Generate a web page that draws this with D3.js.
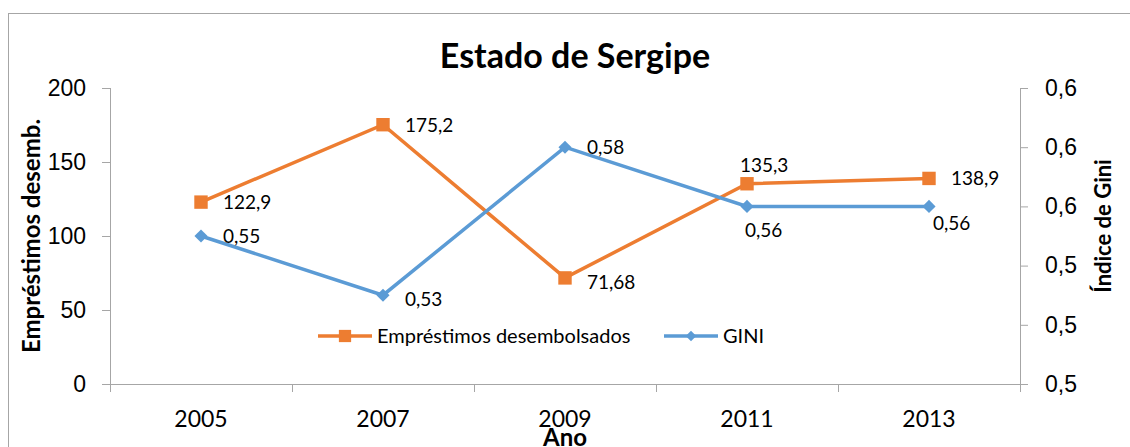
<!DOCTYPE html>
<html>
<head>
<meta charset="utf-8">
<script src="https://cdn.jsdelivr.net/npm/d3@7"></script>
<style>
  body { margin: 0; background: #fff; }
  svg { font-family: Lato, "Open Sans", sans-serif; }
  .axis path, .axis line { stroke: #a6a6a6; }
  .axis text { font-size: 23px; fill: #000; }
</style>
</head>
<body>
<svg id="chart"></svg>
<script>
// data
var years = ["2005", "2007", "2009", "2011", "2013"];
var emprestimos = [122.9, 175.2, 71.68, 135.3, 138.9];
var emprestimosLabels = ["122,9", "175,2", "71,68", "135,3", "138,9"];
var gini = [0.55, 0.53, 0.58, 0.56, 0.56];
var giniLabels = ["0,55", "0,53", "0,58", "0,56", "0,56"];
var leftTicks = [0, 50, 100, 150, 200];
var rightTicks = [0.50, 0.52, 0.54, 0.56, 0.58, 0.60];

// where each data label sits relative to its point
var empPos = ["right", "right", "rightlow", "above", "right"];
var giniPos = ["right", "rightlow", "right", "below", "belowright"];

var svgWidth = 1130, svgHeight = 447;
var orange = "#ed7d31", blue = "#5b9bd5";

var svg = d3.select("#chart")
  .attr("width", svgWidth)
  .attr("height", svgHeight);

// outer frame (right and bottom edges fall outside the picture)
svg.append("rect")
  .attr("x", 8.5).attr("y", 13.5)
  .attr("width", 1140).attr("height", 500)
  .attr("fill", "none")
  .attr("stroke", "#a6a6a6");

var plotLeft = 110, plotRight = 1020, plotTop = 88, plotBottom = 384;

var x = d3.scaleBand().domain(years).range([plotLeft, plotRight]);
var y = d3.scaleLinear().domain([0, 200]).range([plotBottom, plotTop]);
var y2 = d3.scaleLinear().domain([0.50, 0.60]).range([plotBottom, plotTop]);
var cx = d => x(d) + x.bandwidth() / 2;

// left axis
var yAxis = svg.append("g").attr("class", "axis")
  .attr("transform", `translate(${plotLeft},0)`)
  .call(d3.axisLeft(y).tickValues(leftTicks).tickSize(8).tickPadding(16).tickSizeOuter(0));
yAxis.select(".domain").attr("d", `M0.5,${plotTop}V${plotBottom}`);

// right axis
var fmt1 = d => d3.format(".1f")(d).replace(".", ",");
var yAxis2 = svg.append("g").attr("class", "axis")
  .attr("transform", `translate(${plotRight},0)`)
  .call(d3.axisRight(y2).tickValues(rightTicks).tickFormat(fmt1).tickSize(8).tickPadding(17).tickSizeOuter(0));
yAxis2.select(".domain").attr("d", `M0.5,${plotTop}V${plotBottom}`);

// x axis: ticks at the category boundaries
var xAxis = svg.append("g").attr("class", "axis")
  .attr("transform", `translate(0,${plotBottom})`);
xAxis.append("line")
  .attr("x1", plotLeft).attr("x2", plotRight)
  .attr("y1", 0.5).attr("y2", 0.5);
var edges = years.map(d => x(d)).concat([plotRight]);
xAxis.selectAll(".edge").data(edges).enter().append("line")
  .attr("class", "edge")
  .attr("x1", d => d + 0.5).attr("x2", d => d + 0.5)
  .attr("y1", 0).attr("y2", 8);
xAxis.selectAll(".yr").data(years).enter().append("text")
  .attr("class", "yr")
  .attr("x", d => cx(d))
  .attr("y", 43)
  .attr("text-anchor", "middle")
  .text(d => d);

// title and axis titles
svg.append("text")
  .attr("x", 575).attr("y", 68)
  .attr("text-anchor", "middle")
  .style("font-size", "34px").style("font-weight", "bold")
  .text("Estado de Sergipe");

svg.append("text")
  .attr("transform", "translate(40,236) rotate(-90)")
  .attr("text-anchor", "middle")
  .style("font-size", "24px").style("font-weight", "bold")
  .text("Empréstimos desemb.");

svg.append("text")
  .attr("transform", "translate(1111,226) rotate(-90)")
  .attr("text-anchor", "middle")
  .style("font-size", "22px").style("font-weight", "bold")
  .text("Índice de Gini");

// sits over the 2009 label, as in the original
svg.append("text")
  .attr("x", 565).attr("y", 446)
  .attr("text-anchor", "middle")
  .style("font-size", "24px").style("font-weight", "bold")
  .text("Ano");

// lines
var empLine = d3.line().x((d, i) => cx(years[i])).y(d => y(d));
var giniLine = d3.line().x((d, i) => cx(years[i])).y(d => y2(d));

svg.append("path").datum(emprestimos)
  .attr("d", empLine)
  .attr("fill", "none").attr("stroke", orange).attr("stroke-width", 3.5);

svg.append("path").datum(gini)
  .attr("d", giniLine)
  .attr("fill", "none").attr("stroke", blue).attr("stroke-width", 3.5);

var square = d3.symbol().type(d3.symbolSquare).size(180);
var diamond = d3.symbol().type(d3.symbolDiamond2).size(110);

svg.selectAll(".empMark").data(emprestimos).enter().append("path")
  .attr("class", "empMark")
  .attr("d", square)
  .attr("transform", (d, i) => `translate(${cx(years[i])},${y(d)})`)
  .attr("fill", orange);

svg.selectAll(".giniMark").data(gini).enter().append("path")
  .attr("class", "giniMark")
  .attr("d", diamond)
  .attr("transform", (d, i) => `translate(${cx(years[i])},${y2(d)})`)
  .attr("fill", blue);

// data labels
function labelPos(pos, px, py) {
  if (pos == "right") return [px + 22, py + 7];
  if (pos == "rightlow") return [px + 22, py + 11];
  if (pos == "above") return [px - 7, py - 12];
  if (pos == "belowright") return [px + 4, py + 24];
  return [px - 2, py + 31]; // below
}

svg.selectAll(".empLbl").data(emprestimos).enter().append("text")
  .attr("class", "empLbl")
  .each(function(d, i) {
    var p = labelPos(empPos[i], cx(years[i]), y(d));
    d3.select(this).attr("x", p[0]).attr("y", p[1]);
  })
  .style("font-size", "19px")
  .text((d, i) => emprestimosLabels[i]);

svg.selectAll(".giniLbl").data(gini).enter().append("text")
  .attr("class", "giniLbl")
  .each(function(d, i) {
    var p = labelPos(giniPos[i], cx(years[i]), y2(d));
    d3.select(this).attr("x", p[0]).attr("y", p[1]);
  })
  .style("font-size", "19px")
  .text((d, i) => giniLabels[i]);

// legend
var legend = [
  {name: "Empréstimos desembolsados", color: orange, x: 318},
  {name: "GINI", color: blue, x: 664}
];
var lg = svg.selectAll(".leg").data(legend).enter().append("g")
  .attr("class", "leg")
  .attr("transform", d => `translate(${d.x},336)`);
lg.append("line")
  .attr("x1", 0).attr("x2", 54)
  .attr("stroke", d => d.color).attr("stroke-width", 3.5);
lg.append("path")
  .attr("d", d => d.name == "GINI" ? d3.symbol().type(d3.symbolDiamond2).size(70)() : d3.symbol().type(d3.symbolSquare).size(150)())
  .attr("transform", "translate(27,0)")
  .attr("fill", d => d.color);
lg.append("text")
  .attr("x", 59).attr("y", 7)
  .style("font-size", "20px")
  .text(d => d.name);
</script>
</body>
</html>
